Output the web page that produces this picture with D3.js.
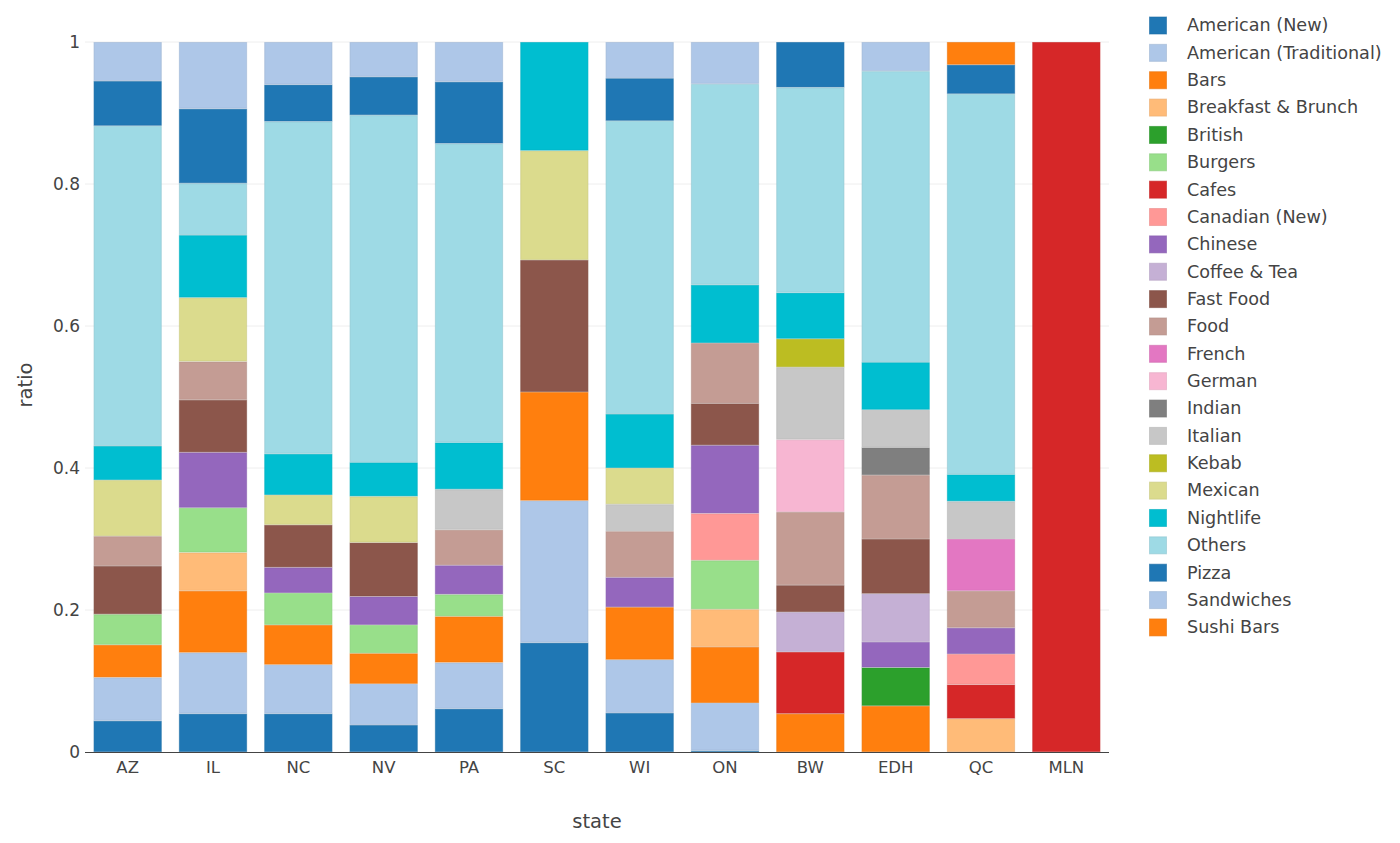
<!DOCTYPE html>
<html>
<head>
<meta charset="utf-8">
<script src="https://cdn.jsdelivr.net/npm/d3@7"></script>
<style>
  body { margin: 0; background: #fff; }
  text { font-family: "DejaVu Sans", Verdana, sans-serif; fill: #444; }
</style>
</head>
<body>
<div id="chart"></div>
<script>
const states = ["AZ", "IL", "NC", "NV", "PA", "SC", "WI", "ON", "BW", "EDH", "QC", "MLN"];

const categories = [
  "American (New)", "American (Traditional)", "Bars", "Breakfast & Brunch", "British",
  "Burgers", "Cafes", "Canadian (New)", "Chinese", "Coffee & Tea", "Fast Food", "Food",
  "French", "German", "Indian", "Italian", "Kebab", "Mexican", "Nightlife", "Others",
  "Pizza", "Sandwiches", "Sushi Bars"
];

// ratio per state, same order as states
const americanNew  = [0.044, 0.054, 0.054, 0.038, 0.061, 0.154, 0.055, 0.002, 0,     0,     0,     0];
const americanTrad = [0.061, 0.086, 0.069, 0.058, 0.065, 0.200, 0.075, 0.067, 0,     0,     0,     0];
const bars         = [0.046, 0.087, 0.056, 0.043, 0.065, 0.153, 0.074, 0.079, 0.054, 0.065, 0,     0];
const breakfast    = [0,     0.054, 0,     0,     0,     0,     0,     0.053, 0,     0,     0.047, 0];
const british      = [0,     0,     0,     0,     0,     0,     0,     0,     0,     0.054, 0,     0];
const burgers      = [0.043, 0.063, 0.045, 0.040, 0.031, 0,     0,     0.069, 0,     0,     0,     0];
const cafes        = [0,     0,     0,     0,     0,     0,     0,     0,     0.087, 0,     0.048, 1];
const canadian     = [0,     0,     0,     0,     0,     0,     0,     0.066, 0,     0,     0.043, 0];
const chinese      = [0,     0.078, 0.036, 0.040, 0.041, 0,     0.042, 0.096, 0,     0.036, 0.037, 0];
const coffeeTea    = [0,     0,     0,     0,     0,     0,     0,     0,     0.056, 0.068, 0,     0];
const fastFood     = [0.068, 0.074, 0.060, 0.076, 0,     0.186, 0,     0.059, 0.038, 0.077, 0,     0];
const food         = [0.042, 0.054, 0,     0,     0.050, 0,     0.065, 0.085, 0.103, 0.090, 0.052, 0];
const french       = [0,     0,     0,     0,     0,     0,     0,     0,     0,     0,     0.073, 0];
const german       = [0,     0,     0,     0,     0,     0,     0,     0,     0.102, 0,     0,     0];
const indian       = [0,     0,     0,     0,     0,     0,     0,     0,     0,     0.039, 0,     0];
const italian      = [0,     0,     0,     0,     0.057, 0,     0.038, 0,     0.102, 0.053, 0.053, 0];
const kebab        = [0,     0,     0,     0,     0,     0,     0,     0,     0.040, 0,     0,     0];
const mexican      = [0.079, 0.090, 0.042, 0.065, 0,     0.154, 0.051, 0,     0,     0,     0,     0];
const nightlife    = [0.048, 0.088, 0.058, 0.048, 0.066, 0.153, 0.076, 0.082, 0.065, 0.067, 0.038, 0];
const others       = [0.451, 0.073, 0.468, 0.489, 0.421, 0,     0.413, 0.283, 0.289, 0.410, 0.536, 0];
const pizza        = [0.063, 0.105, 0.052, 0.054, 0.087, 0,     0.060, 0,     0.064, 0,     0.041, 0];
const sandwiches   = [0.055, 0.094, 0.060, 0.049, 0.056, 0,     0.051, 0.059, 0,     0.041, 0,     0];
const sushiBars    = [0,     0,     0,     0,     0,     0,     0,     0,     0,     0,     0.032, 0];

const series = [americanNew, americanTrad, bars, breakfast, british, burgers, cafes, canadian,
  chinese, coffeeTea, fastFood, food, french, german, indian, italian, kebab, mexican,
  nightlife, others, pizza, sandwiches, sushiBars];

const yTicks = [0, 0.2, 0.4, 0.6, 0.8, 1];

// category20 palette, wraps around after 20
const palette = ["#1f77b4", "#aec7e8", "#ff7f0e", "#ffbb78", "#2ca02c", "#98df8a", "#d62728",
  "#ff9896", "#9467bd", "#c5b0d5", "#8c564b", "#c49c94", "#e377c2", "#f7b6d2", "#7f7f7f",
  "#c7c7c7", "#bcbd22", "#dbdb8d", "#00bed0", "#9edae5"];

const W = 1400, H = 843;
const plot = { left: 85, right: 1109, top: 42, bottom: 752 };

const rows = states.map((s, i) => {
  const r = { state: s };
  categories.forEach((c, j) => { r[c] = series[j][i]; });
  return r;
});

const color = d3.scaleOrdinal()
  .domain(categories)
  .range(categories.map((c, i) => palette[i % palette.length]));

const svg = d3.select("#chart")
  .append("svg")
  .attr("width", W)
  .attr("height", H);

const x = d3.scaleBand()
  .domain(states)
  .range([plot.left, plot.right])
  .paddingInner(0.2)
  .paddingOuter(0.1);

const y = d3.scaleLinear()
  .domain([0, 1])
  .range([plot.bottom, plot.top]);

// grid
svg.append("g")
  .selectAll("line")
  .data(yTicks.slice(1))
  .enter().append("line")
  .attr("x1", plot.left)
  .attr("x2", plot.right)
  .attr("y1", d => y(d))
  .attr("y2", d => y(d))
  .attr("stroke", "#eee")
  .attr("stroke-width", 1);

const stacked = d3.stack().keys(categories)(rows);

svg.append("g")
  .selectAll("g")
  .data(stacked)
  .enter().append("g")
  .attr("fill", d => color(d.key))
  .attr("stroke", d => d3.color(color(d.key)).darker(0.25))
  .selectAll("rect")
  .data(d => d.filter(p => p[1] - p[0] > 0))
  .enter().append("rect")
  .attr("x", d => x(d.data.state) + 0.5)
  .attr("y", d => y(d[1]) + 0.5)
  .attr("width", x.bandwidth() - 1)
  .attr("height", d => Math.max(0, y(d[0]) - y(d[1]) - 1))
  .attr("stroke-width", 1)
  .attr("stroke-opacity", 0.6);

// y axis labels
const yAxis = d3.axisLeft(y)
  .tickValues(yTicks)
  .tickFormat(d3.format("~g"))
  .tickSize(0)
  .tickPadding(5);

svg.append("g")
  .attr("transform", `translate(${plot.left},0)`)
  .call(yAxis)
  .call(g => g.select(".domain").remove())
  .selectAll("text")
  .attr("font-size", 17)
  .attr("fill", "#444")
  .style("font-family", "'DejaVu Sans', Verdana, sans-serif");

// x axis
const xAxis = d3.axisBottom(x).tickSize(0).tickPadding(9);

svg.append("g")
  .attr("transform", `translate(0,${plot.bottom})`)
  .call(xAxis)
  .call(g => g.select(".domain").remove())
  .selectAll("text")
  .attr("font-size", 16.5)
  .attr("fill", "#444")
  .style("font-family", "'DejaVu Sans', Verdana, sans-serif");

svg.append("line")
  .attr("x1", plot.left)
  .attr("x2", plot.right)
  .attr("y1", plot.bottom + 0.5)
  .attr("y2", plot.bottom + 0.5)
  .attr("stroke", "#444")
  .attr("stroke-width", 1);

// axis titles
svg.append("text")
  .attr("x", (plot.left + plot.right) / 2)
  .attr("y", 828)
  .attr("text-anchor", "middle")
  .attr("font-size", 19.5)
  .text("state");

svg.append("text")
  .attr("transform", "translate(32,385) rotate(-90)")
  .attr("text-anchor", "middle")
  .attr("font-size", 19.5)
  .text("ratio");

// legend
const legend = svg.append("g")
  .selectAll("g")
  .data(categories)
  .enter().append("g")
  .attr("transform", (d, i) => `translate(1149,${25 + i * 27.36})`);

legend.append("rect")
  .attr("x", 0.5)
  .attr("y", -8)
  .attr("width", 17)
  .attr("height", 17)
  .attr("fill", d => color(d))
  .attr("stroke", d => d3.color(color(d)).darker(0.25))
  .attr("stroke-opacity", 0.6);

legend.append("text")
  .attr("x", 38)
  .attr("y", 0)
  .attr("dy", "0.36em")
  .attr("font-size", 17.6)
  .text(d => d);
</script>
</body>
</html>
